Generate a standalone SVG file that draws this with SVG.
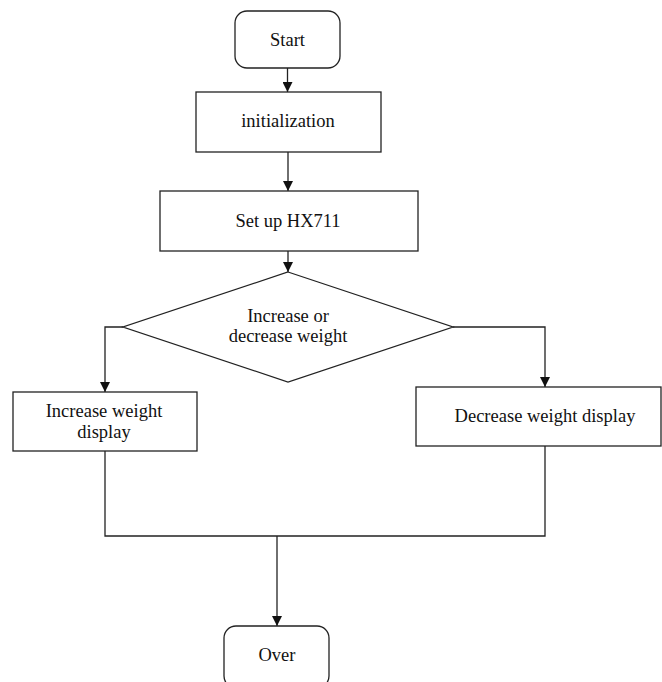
<svg xmlns="http://www.w3.org/2000/svg" width="662" height="682" viewBox="0 0 662 682">
<style>
.box{fill:#fff;stroke:#222;stroke-width:1.3}
.t{font-family:"Liberation Serif","Times New Roman",serif;font-size:18.5px;fill:#111;text-anchor:middle}
.c{fill:none;stroke:#222;stroke-width:1.3}
</style>
<defs>
<marker id="ah" viewBox="0 0 10 10" refX="10" refY="5" markerWidth="10" markerHeight="10" markerUnits="userSpaceOnUse" orient="auto">
<path d="M0,0 L10,5 L0,10 z" fill="#111"/>
</marker>
</defs>
<rect width="662" height="682" fill="#fff"/>
<g id="connectors">
<path class="c" d="M287.5,68 V92" marker-end="url(#ah)"/>
<path class="c" d="M288,152 V191" marker-end="url(#ah)"/>
<path class="c" d="M288,251 V272" marker-end="url(#ah)"/>
<path class="c" d="M123,327 H105 V392" marker-end="url(#ah)"/>
<path class="c" d="M453,327 H545 V387" marker-end="url(#ah)"/>
<path class="c" d="M105,451 V536 H545 V446"/>
<path class="c" d="M277,536 V626" marker-end="url(#ah)"/>
</g>
<g id="start">
<rect class="box" x="235" y="11" width="105" height="57" rx="12"/>
<text class="t" x="287.5" y="46">Start</text>
</g>
<g id="init">
<rect class="box" x="196" y="92" width="185" height="60"/>
<text class="t" x="288" y="127">initialization</text>
</g>
<g id="setup">
<rect class="box" x="160" y="191" width="258" height="60"/>
<text class="t" x="288" y="227">Set up HX711</text>
</g>
<g id="decision">
<polygon class="box" points="288,272 453,327 288,382 123,327"/>
<text class="t" x="288" y="322">Increase or</text>
<text class="t" x="288" y="342">decrease weight</text>
</g>
<g id="increase">
<rect class="box" x="13" y="392" width="184" height="59"/>
<text class="t" x="104" y="417">Increase weight</text>
<text class="t" x="104" y="438">display</text>
</g>
<g id="decrease">
<rect class="box" x="416" y="387" width="245" height="59"/>
<text class="t" x="545" y="422">Decrease weight display</text>
</g>
<g id="over">
<rect class="box" x="224" y="626" width="105" height="62" rx="12"/>
<text class="t" x="277" y="661">Over</text>
</g>
</svg>
